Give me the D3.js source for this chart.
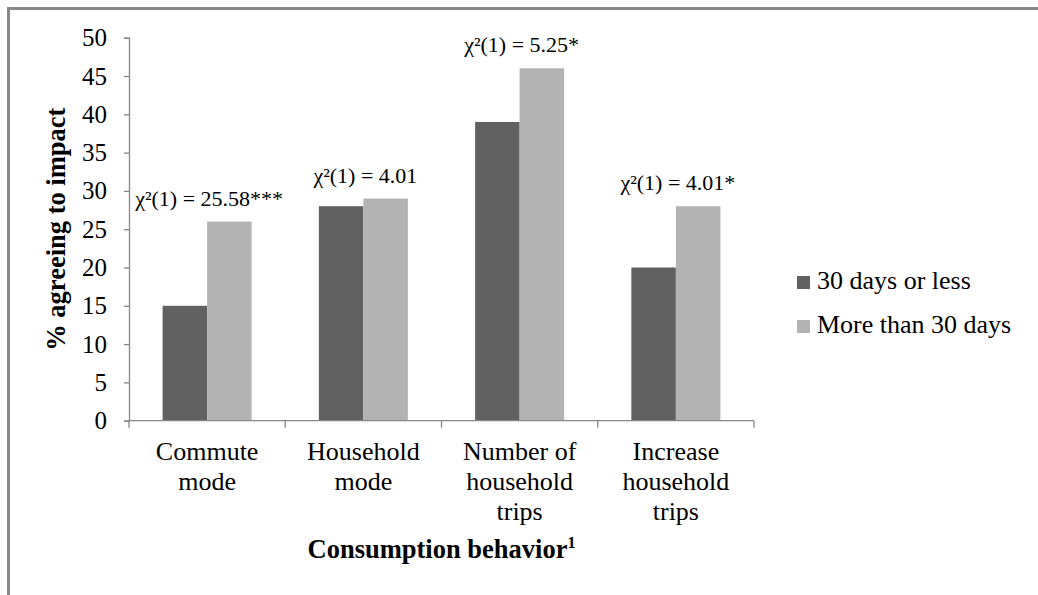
<!DOCTYPE html>
<html>
<head>
<meta charset="utf-8">
<script src="https://cdn.jsdelivr.net/npm/d3@7"></script>
<style>
  html, body { margin: 0; padding: 0; background: #fff; }
  svg { display: block; }
  text { font-family: "Liberation Serif", "Times New Roman", serif; fill: #000; }
</style>
</head>
<body>
<svg id="chart" width="1038" height="595"></svg>
<script>
// Survey results: share of respondents agreeing to an impact, by consumption behavior
const categories = [
  ["Commute", "mode"],
  ["Household", "mode"],
  ["Number of", "household", "trips"],
  ["Increase", "household", "trips"]
];
const seriesNames = ["30 days or less", "More than 30 days"];
const shortTerm = [15, 28, 39, 20];
const longTerm = [26, 29, 46, 28];
const chiLabels = ["χ²(1) = 25.58***", "χ²(1) = 4.01", "χ²(1) = 5.25*", "χ²(1) = 4.01*"];
const yTicks = [0, 5, 10, 15, 20, 25, 30, 35, 40, 45, 50];

const colors = ["#616161", "#b3b3b3"];
const serif = "Liberation Serif, Times New Roman, serif";
const svg = d3.select("#chart");

// outer frame
svg.append("rect")
  .attr("x", 8.5).attr("y", 8.5)
  .attr("width", 1100).attr("height", 700)
  .attr("fill", "none").attr("stroke", "#888").attr("stroke-width", 3);

const plot = { left: 129, right: 754, top: 37.7, bottom: 420.7 };
const keys = categories.map(c => c.join(" "));

const x = d3.scaleBand().domain(keys).range([plot.left, plot.right]).padding(0);
const xInner = d3.scaleBand().domain(seriesNames).range([0, x.bandwidth()])
  .paddingInner(0).paddingOuter(0.755);
const y = d3.scaleLinear().domain([0, 50]).range([plot.bottom, plot.top]);

const rows = keys.map((k, i) => ({ key: k, values: [shortTerm[i], longTerm[i]], chi: chiLabels[i] }));

// bars
const groups = svg.append("g").selectAll("g").data(rows).join("g")
  .attr("transform", d => `translate(${x(d.key)},0)`);
groups.selectAll("rect").data(d => d.values.map((v, j) => ({ v, s: seriesNames[j], j })))
  .join("rect")
  .attr("x", d => xInner(d.s))
  .attr("y", d => y(d.v))
  .attr("width", xInner.bandwidth())
  .attr("height", d => y(0) - y(d.v))
  .attr("fill", d => colors[d.j]);

// chi-square annotations above each pair
groups.append("text")
  .attr("x", x.bandwidth() / 2 + 2)
  .attr("y", d => y(d3.max(d.values)) - 16)
  .attr("text-anchor", "middle")
  .attr("font-size", 22)
  .text(d => d.chi);

// y axis
const yAxis = svg.append("g").attr("transform", `translate(${plot.left},0)`)
  .call(d3.axisLeft(y).tickValues(yTicks).tickSize(5).tickPadding(17).tickFormat(d3.format("d")));
yAxis.attr("font-family", serif);
yAxis.select(".domain").attr("stroke", "#868686").attr("stroke-width", 1.3);
yAxis.selectAll(".tick line").attr("stroke", "#868686").attr("stroke-width", 1.3);
yAxis.selectAll(".tick text").attr("font-size", 25).attr("fill", "#000");

// x axis line with tick marks at the band boundaries
const xAxisG = svg.append("g");
xAxisG.append("line")
  .attr("x1", plot.left).attr("x2", plot.right)
  .attr("y1", y(0)).attr("y2", y(0))
  .attr("stroke", "#868686").attr("stroke-width", 1.3);
const bounds = keys.map(k => x(k)).concat([plot.right]);
xAxisG.selectAll("line.tk").data(bounds).join("line").attr("class", "tk")
  .attr("x1", d => d).attr("x2", d => d)
  .attr("y1", y(0)).attr("y2", y(0) + 7)
  .attr("stroke", "#868686").attr("stroke-width", 1.3);

// category labels
const catText = xAxisG.selectAll("text.cat").data(categories).join("text").attr("class", "cat")
  .attr("text-anchor", "middle")
  .attr("font-size", 26)
  .attr("transform", (d, i) => `translate(${x(keys[i]) + x.bandwidth() / 2},0)`);
catText.selectAll("tspan").data(d => d).join("tspan")
  .attr("x", 0)
  .attr("y", (d, i) => 460 + i * 30)
  .text(d => d);

// axis titles
svg.append("text")
  .attr("transform", `translate(65,${(plot.top + plot.bottom) / 2}) rotate(-90)`)
  .attr("text-anchor", "middle")
  .attr("font-size", 26.5).attr("font-weight", "bold")
  .text("% agreeing to impact");

const xt = svg.append("text")
  .attr("x", (plot.left + plot.right) / 2).attr("y", 558)
  .attr("text-anchor", "middle")
  .attr("font-size", 26.5).attr("font-weight", "bold");
xt.append("tspan").text("Consumption behavior");
xt.append("tspan").attr("font-size", 16).attr("dy", -10).text("1");

// legend
const legend = svg.append("g").selectAll("g").data(seriesNames).join("g")
  .attr("transform", (d, i) => `translate(797,${276 + i * 44})`);
legend.append("rect").attr("width", 13).attr("height", 13).attr("fill", (d, i) => colors[i]);
legend.append("text").attr("x", 20).attr("y", 13).attr("font-size", 26).text(d => d);
</script>
</body>
</html>
